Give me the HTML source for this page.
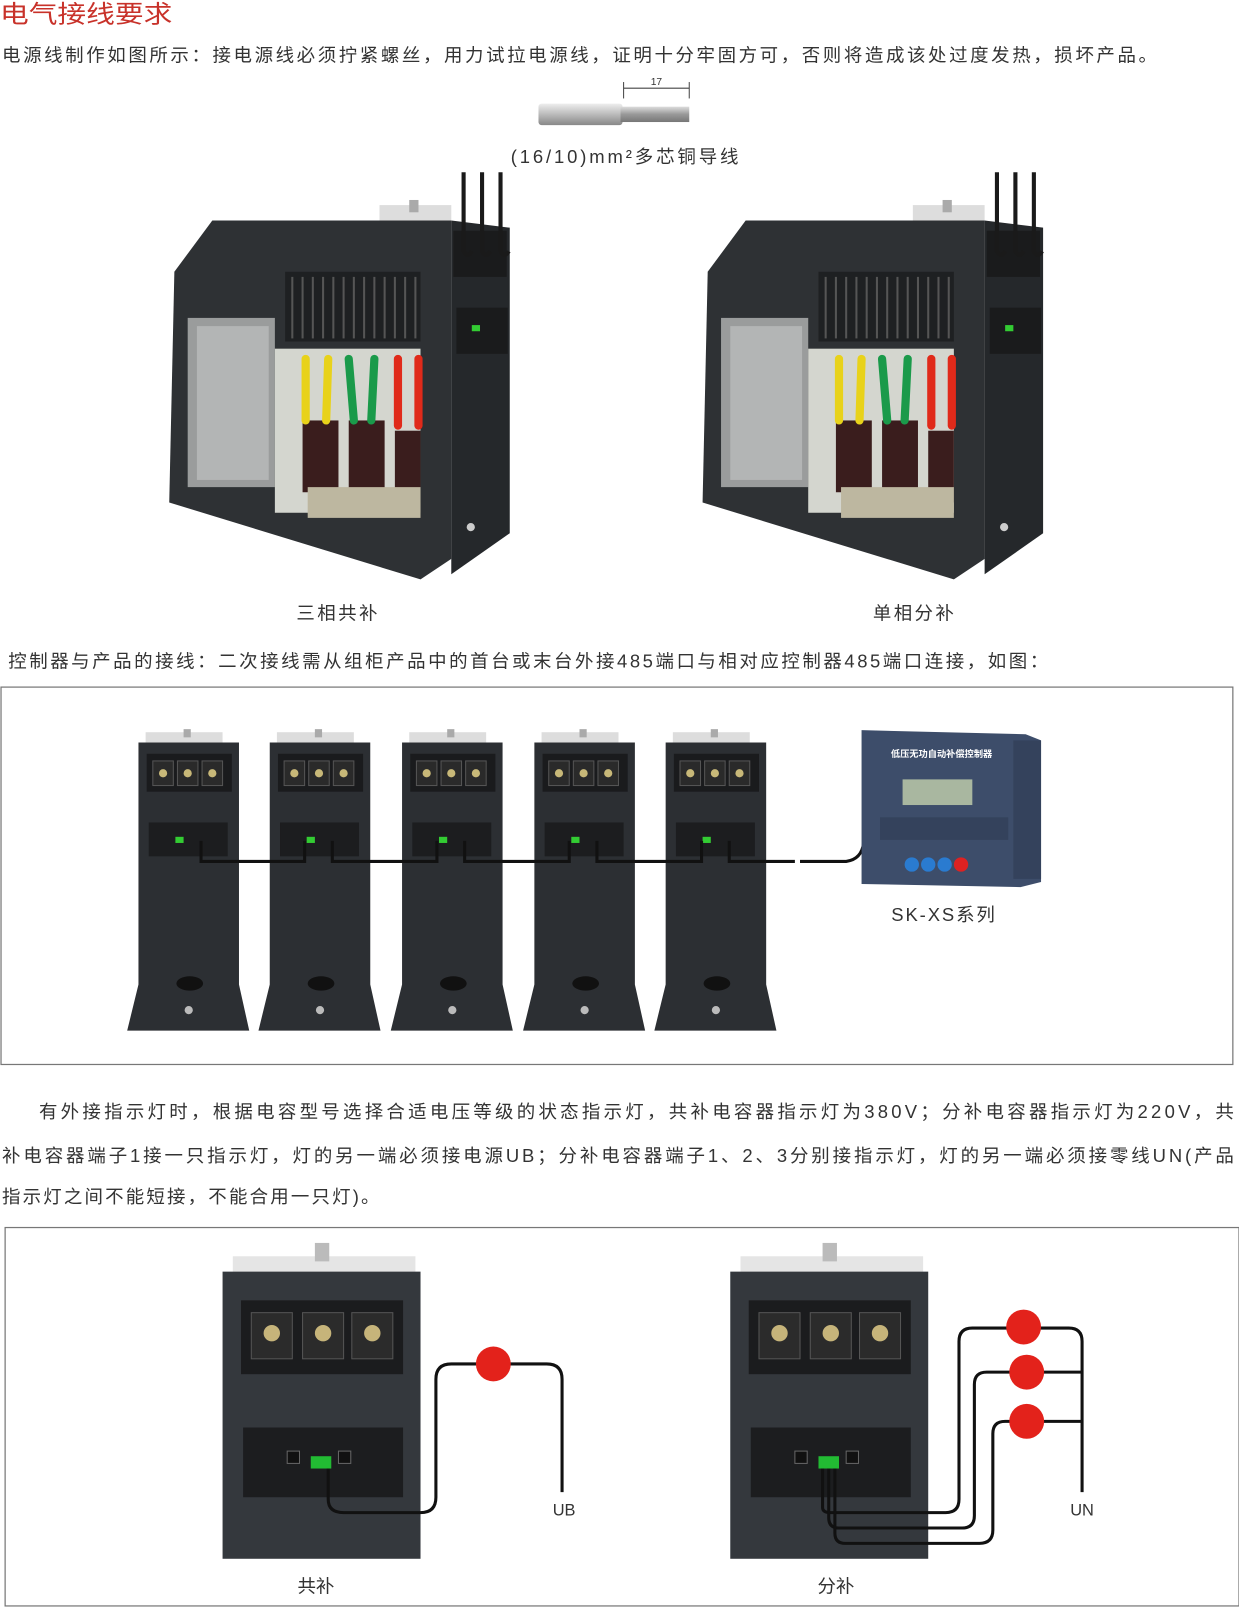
<!DOCTYPE html>
<html><head><meta charset="utf-8"><style>
html,body{margin:0;padding:0;background:#fff}
svg{display:block}
text{font-family:"Liberation Sans","Noto Sans CJK SC",sans-serif}
</style></head><body>
<svg width="1239" height="1608" viewBox="0 0 1208 1568" preserveAspectRatio="none" xmlns="http://www.w3.org/2000/svg">
<defs>
<linearGradient id="wg" x1="0" y1="0" x2="0" y2="1"><stop offset="0" stop-color="#eee"/><stop offset=".5" stop-color="#bbb"/><stop offset="1" stop-color="#888"/></linearGradient>
<linearGradient id="cu" x1="0" y1="0" x2="0" y2="1"><stop offset="0" stop-color="#ddd"/><stop offset=".5" stop-color="#999"/><stop offset="1" stop-color="#777"/></linearGradient>
<g id="big">
 <polygon points="170,265 207,215 440,215 440,545 410,565 165,490" fill="#2e3134"/>
 <polygon points="440,215 497,222 497,520 440,560" fill="#25282b"/>
 <rect x="370" y="200" width="70" height="15" fill="#ddd"/>
 <rect x="399" y="195" width="9" height="12" fill="#aaa"/>
 <rect x="183" y="310" width="85" height="165" fill="#9a9c9c"/>
 <rect x="192" y="318" width="70" height="150" fill="#b3b5b5"/>
 <rect x="268" y="340" width="142" height="160" fill="#d4d6cf"/>
 <rect x="295" y="410" width="35" height="70" fill="#3a1d1d"/>
 <rect x="340" y="410" width="35" height="75" fill="#3a1d1d"/>
 <rect x="385" y="420" width="25" height="70" fill="#3a1d1d"/>
 <rect x="300" y="475" width="110" height="30" fill="#bdb7a0"/>
 <rect x="278" y="265" width="132" height="68" fill="#1e2022"/>
 <g stroke="#555" stroke-width="2">
  <line x1="285" y1="270" x2="285" y2="330"/><line x1="295" y1="270" x2="295" y2="330"/><line x1="305" y1="270" x2="305" y2="330"/><line x1="315" y1="270" x2="315" y2="330"/><line x1="325" y1="270" x2="325" y2="330"/><line x1="335" y1="270" x2="335" y2="330"/><line x1="345" y1="270" x2="345" y2="330"/><line x1="355" y1="270" x2="355" y2="330"/><line x1="365" y1="270" x2="365" y2="330"/><line x1="375" y1="270" x2="375" y2="330"/><line x1="385" y1="270" x2="385" y2="330"/><line x1="395" y1="270" x2="395" y2="330"/><line x1="405" y1="270" x2="405" y2="330"/>
 </g>
 <g stroke-width="8" stroke-linecap="round" fill="none">
  <path d="M298,350 L298,410" stroke="#e8d21a"/><path d="M320,350 L318,410" stroke="#e8d21a"/>
  <path d="M340,350 L345,410" stroke="#1a9a4a"/><path d="M365,350 L362,410" stroke="#1a9a4a"/>
  <path d="M388,350 L388,415" stroke="#e02a1a"/><path d="M408,350 L408,415" stroke="#e02a1a"/>
 </g>
 <rect x="442" y="225" width="52" height="45" fill="#1a1b1c"/>
 <rect x="445" y="300" width="50" height="45" fill="#1a1b1c"/>
 <rect x="460" y="317" width="8" height="6" fill="#3c3"/>
 <circle cx="459" cy="514" r="4" fill="#ccc"/>
 <g stroke="#1a1a1a" stroke-width="4" fill="none">
  <path d="M452,168 L452,245 Q456,252 460,245"/><path d="M470,168 L470,245 Q474,252 478,245"/><path d="M488,168 L488,245 Q492,252 496,245"/>
 </g>
</g>
<g id="tall">
 <rect x="142" y="714" width="75" height="10" fill="#ddd"/>
 <rect x="179" y="711" width="7" height="8" fill="#aaa"/>
 <polygon points="135,724 233,724 233,960 243,1005 124,1005 135,960" fill="#2c2f33"/>
 <rect x="143" y="735" width="83" height="37" fill="#1a1b1d"/>
 <rect x="149" y="742" width="20" height="24" fill="#2a2a2a" stroke="#555"/>
 <rect x="173" y="742" width="20" height="24" fill="#2a2a2a" stroke="#555"/>
 <rect x="197" y="742" width="20" height="24" fill="#2a2a2a" stroke="#555"/>
 <circle cx="159" cy="754" r="4" fill="#c8b878"/><circle cx="183" cy="754" r="4" fill="#c8b878"/><circle cx="207" cy="754" r="4" fill="#c8b878"/>
 <rect x="145" y="802" width="77" height="33" fill="#1c1d1f"/>
 <rect x="171" y="816" width="8" height="6" fill="#3c3"/>
 <ellipse cx="185" cy="959" rx="13" ry="7" fill="#111"/>
 <circle cx="184" cy="985" r="4" fill="#bbb"/>
</g>
<g id="bot">
 <rect x="227" y="1225" width="178" height="18" fill="#e5e5e5"/>
 <rect x="307" y="1212" width="14" height="18" fill="#bbb"/>
 <rect x="217" y="1240" width="193" height="280" fill="#34383d"/>
 <rect x="235" y="1268" width="158" height="72" fill="#1b1c1e"/>
 <rect x="245" y="1280" width="40" height="45" fill="#2b2b2b" stroke="#555"/>
 <rect x="295" y="1280" width="40" height="45" fill="#2b2b2b" stroke="#555"/>
 <rect x="343" y="1280" width="40" height="45" fill="#2b2b2b" stroke="#555"/>
 <circle cx="265" cy="1300" r="8" fill="#c6b47a"/><circle cx="315" cy="1300" r="8" fill="#c6b47a"/><circle cx="363" cy="1300" r="8" fill="#c6b47a"/>
 <rect x="237" y="1392" width="156" height="68" fill="#1c1d1f"/>
 <rect x="280" y="1415" width="12" height="12" fill="#111" stroke="#666"/>
 <rect x="330" y="1415" width="12" height="12" fill="#111" stroke="#666"/>
 <rect x="303" y="1420" width="20" height="12" fill="#2b3"/>
</g>
</defs>

<text x="0" y="22" font-size="24" fill="#c8322a" textLength="168" lengthAdjust="spacingAndGlyphs">电气接线要求</text>
<text x="2" y="60" font-size="18" fill="#333" textLength="1126" lengthAdjust="spacing">电源线制作如图所示：接电源线必须拧紧螺丝，用力试拉电源线，证明十分牢固方可，否则将造成该处过度发热，损坏产品。</text>
<rect x="525" y="101" width="82" height="21" fill="url(#wg)" rx="3"/>
<rect x="605" y="104" width="67" height="15" fill="url(#cu)"/>
<line x1="608" y1="86" x2="672" y2="86" stroke="#444"/>
<line x1="608" y1="80" x2="608" y2="96" stroke="#444"/><line x1="672" y1="80" x2="672" y2="96" stroke="#444"/>
<text x="640" y="83" font-size="10" text-anchor="middle" fill="#333">17</text>
<text x="498" y="159" font-size="18" fill="#333" textLength="222" lengthAdjust="spacing">(16/10)mm²多芯铜导线</text>

<use href="#big"/>
<use href="#big" transform="translate(520,0)"/>
<text x="289" y="604" font-size="18" fill="#333" textLength="79" lengthAdjust="spacing">三相共补</text>
<text x="851" y="604" font-size="18" fill="#333" textLength="79" lengthAdjust="spacing">单相分补</text>
<text x="8" y="651" font-size="18" fill="#333" textLength="1014" lengthAdjust="spacing">控制器与产品的接线：二次接线需从组柜产品中的首台或末台外接485端口与相对应控制器485端口连接，如图：</text>

<rect x="1" y="670" width="1201" height="368" fill="none" stroke="#777" stroke-width="1.2"/>
<use href="#tall"/>
<use href="#tall" transform="translate(128,0)"/>
<use href="#tall" transform="translate(257,0)"/>
<use href="#tall" transform="translate(386,0)"/>
<use href="#tall" transform="translate(514,0)"/>
<g stroke="#111" stroke-width="3" fill="none">
 <path d="M196,820 V840 H297 V820"/><path d="M324,820 V840 H426 V820"/><path d="M453,820 V840 H555 V820"/><path d="M582,820 V840 H684 V820"/><path d="M711,820 V840 H775"/>
 <path d="M780,840 H825 Q840,838 842,822"/>
</g>
<polygon points="840,712 1000,716 1015,722 1015,860 995,865 840,862" fill="#3d4d6a"/>
<rect x="988" y="722" width="27" height="135" fill="#34425c"/>
<rect x="880" y="760" width="68" height="25" fill="#a9b7a0"/>
<text x="918" y="738" font-size="9" text-anchor="middle" fill="#fff" font-weight="bold">低压无功自动补偿控制器</text>
<rect x="858" y="797" width="125" height="22" fill="#34425c"/>
<circle cx="889" cy="843" r="7" fill="#2a7bd0"/><circle cx="905" cy="843" r="7" fill="#2a7bd0"/><circle cx="921" cy="843" r="7" fill="#2a7bd0"/><circle cx="937" cy="843" r="7" fill="#d22"/>
<text x="869" y="898" font-size="18" fill="#333" textLength="101" lengthAdjust="spacing">SK-XS系列</text>

<text x="38" y="1090" font-size="18" fill="#333" textLength="1165" lengthAdjust="spacing">有外接指示灯时，根据电容型号选择合适电压等级的状态指示灯，共补电容器指示灯为380V；分补电容器指示灯为220V，共</text>
<text x="2" y="1133" font-size="18" fill="#333" textLength="1201" lengthAdjust="spacing">补电容器端子1接一只指示灯，灯的另一端必须接电源UB；分补电容器端子1、2、3分别接指示灯，灯的另一端必须接零线UN(产品</text>
<text x="2" y="1173" font-size="18" fill="#333" textLength="368" lengthAdjust="spacing">指示灯之间不能短接，不能合用一只灯)。</text>

<rect x="5" y="1197" width="1203" height="369" fill="none" stroke="#777" stroke-width="1.2"/>
<use href="#bot"/>
<use href="#bot" transform="translate(495,0)"/>
<g stroke="#111" stroke-width="3" fill="none">
 <path d="M320,1432 V1462 Q320,1475 335,1475 H410 Q425,1475 425,1460 V1345 Q425,1330 440,1330 H533 Q548,1330 548,1345 V1455"/>
 <path d="M802,1432 V1470 Q802,1475 810,1475 H922 Q935,1475 935,1462 V1308 Q935,1295 948,1295 H1042 Q1055,1295 1055,1308 V1455"/>
 <path d="M808,1432 V1480 Q808,1490 818,1490 H938 Q950,1490 950,1478 V1350 Q950,1338 962,1338 H1055"/>
 <path d="M814,1432 V1495 Q814,1505 824,1505 H955 Q968,1505 968,1492 V1398 Q968,1386 980,1386 H1055"/>
</g>
<circle cx="481" cy="1330" r="17" fill="#e3221b"/>
<circle cx="998" cy="1294" r="17" fill="#e3221b"/>
<circle cx="1001" cy="1338" r="17" fill="#e3221b"/>
<circle cx="1001" cy="1386" r="17" fill="#e3221b"/>
<text x="550" y="1478" font-size="16" text-anchor="middle" fill="#333">UB</text>
<text x="1055" y="1478" font-size="16" text-anchor="middle" fill="#333">UN</text>
<text x="308" y="1553" font-size="18" text-anchor="middle" fill="#333">共补</text>
<text x="815" y="1553" font-size="18" text-anchor="middle" fill="#333">分补</text>
</svg>
</body></html>
